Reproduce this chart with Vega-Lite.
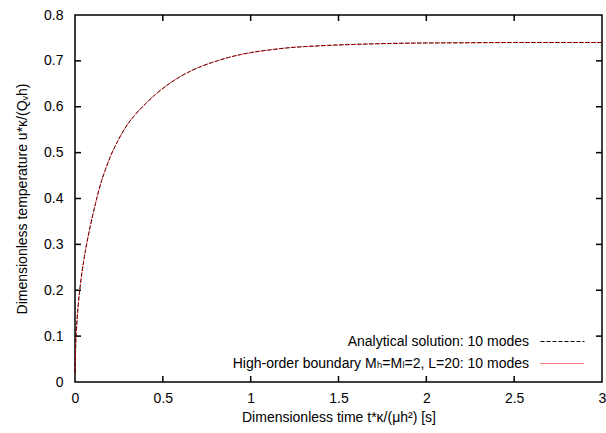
{
  "$schema": "https://vega.github.io/schema/vega-lite/v6.json",
  "width": 527,
  "height": 367,
  "autosize": {"type": "none"},
  "padding": {"left": 75, "top": 15, "right": 4, "bottom": 51},
  "background": "white",
  "config": {
    "font": "Liberation Sans",
    "view": {"stroke": "black", "strokeWidth": 1.5},
    "axis": {
      "domain": false,
      "ticks": false,
      "tickSize": 0,
      "grid": false,
      "labelFont": "Liberation Sans, DejaVu Sans",
      "labelFontSize": 14,
      "labelColor": "black",
      "titleFont": "Liberation Sans, DejaVu Sans",
      "titleFontSize": 14,
      "titleFontWeight": "normal",
      "titleColor": "black"
    },
    "legend": {
      "labelFont": "Liberation Sans, DejaVu Sans",
      "labelFontSize": 14,
      "labelColor": "black"
    }
  },
  "datasets": {
    "curve": [
      {"t": 0, "u": 0.02, "series": "A"}, {"t": 0.005, "u": 0.09, "series": "A"}, {"t": 0.01, "u": 0.125, "series": "A"},
      {"t": 0.02, "u": 0.175, "series": "A"}, {"t": 0.03, "u": 0.21, "series": "A"}, {"t": 0.04, "u": 0.24, "series": "A"},
      {"t": 0.05, "u": 0.265, "series": "A"}, {"t": 0.075, "u": 0.318, "series": "A"}, {"t": 0.1, "u": 0.362, "series": "A"},
      {"t": 0.125, "u": 0.402, "series": "A"}, {"t": 0.15, "u": 0.437, "series": "A"}, {"t": 0.175, "u": 0.465, "series": "A"},
      {"t": 0.2, "u": 0.49, "series": "A"}, {"t": 0.25, "u": 0.53, "series": "A"}, {"t": 0.3, "u": 0.562, "series": "A"},
      {"t": 0.35, "u": 0.586, "series": "A"}, {"t": 0.4, "u": 0.606, "series": "A"}, {"t": 0.45, "u": 0.624, "series": "A"},
      {"t": 0.5, "u": 0.64, "series": "A"}, {"t": 0.6, "u": 0.666, "series": "A"}, {"t": 0.7, "u": 0.685, "series": "A"},
      {"t": 0.8, "u": 0.699, "series": "A"}, {"t": 0.9, "u": 0.71, "series": "A"}, {"t": 1.0, "u": 0.718, "series": "A"},
      {"t": 1.1, "u": 0.7235, "series": "A"}, {"t": 1.2, "u": 0.728, "series": "A"}, {"t": 1.4, "u": 0.733, "series": "A"},
      {"t": 1.6, "u": 0.736, "series": "A"}, {"t": 1.8, "u": 0.738, "series": "A"}, {"t": 2.0, "u": 0.739, "series": "A"},
      {"t": 2.25, "u": 0.7395, "series": "A"}, {"t": 2.5, "u": 0.74, "series": "A"}, {"t": 3.0, "u": 0.74, "series": "A"},
      {"t": 0, "u": 0.02, "series": "B"}, {"t": 0.005, "u": 0.09, "series": "B"}, {"t": 0.01, "u": 0.125, "series": "B"},
      {"t": 0.02, "u": 0.175, "series": "B"}, {"t": 0.03, "u": 0.21, "series": "B"}, {"t": 0.04, "u": 0.24, "series": "B"},
      {"t": 0.05, "u": 0.265, "series": "B"}, {"t": 0.075, "u": 0.318, "series": "B"}, {"t": 0.1, "u": 0.362, "series": "B"},
      {"t": 0.125, "u": 0.402, "series": "B"}, {"t": 0.15, "u": 0.437, "series": "B"}, {"t": 0.175, "u": 0.465, "series": "B"},
      {"t": 0.2, "u": 0.49, "series": "B"}, {"t": 0.25, "u": 0.53, "series": "B"}, {"t": 0.3, "u": 0.562, "series": "B"},
      {"t": 0.35, "u": 0.586, "series": "B"}, {"t": 0.4, "u": 0.606, "series": "B"}, {"t": 0.45, "u": 0.624, "series": "B"},
      {"t": 0.5, "u": 0.64, "series": "B"}, {"t": 0.6, "u": 0.666, "series": "B"}, {"t": 0.7, "u": 0.685, "series": "B"},
      {"t": 0.8, "u": 0.699, "series": "B"}, {"t": 0.9, "u": 0.71, "series": "B"}, {"t": 1.0, "u": 0.718, "series": "B"},
      {"t": 1.1, "u": 0.7235, "series": "B"}, {"t": 1.2, "u": 0.728, "series": "B"}, {"t": 1.4, "u": 0.733, "series": "B"},
      {"t": 1.6, "u": 0.736, "series": "B"}, {"t": 1.8, "u": 0.738, "series": "B"}, {"t": 2.0, "u": 0.739, "series": "B"},
      {"t": 2.25, "u": 0.7395, "series": "B"}, {"t": 2.5, "u": 0.74, "series": "B"}, {"t": 3.0, "u": 0.74, "series": "B"}
    ],
    "xticks": [{"t": 0.5}, {"t": 1}, {"t": 1.5}, {"t": 2}, {"t": 2.5}],
    "yticks": [{"u": 0.1}, {"u": 0.2}, {"u": 0.3}, {"u": 0.4}, {"u": 0.5}, {"u": 0.6}, {"u": 0.7}]
  },
  "layer": [
    {
      "data": {"name": "curve"},
      "mark": {"type": "line", "strokeWidth": 1, "interpolate": "monotone"},
      "encoding": {
        "x": {
          "field": "t", "type": "quantitative",
          "scale": {"domain": [0, 3], "nice": false, "zero": false},
          "axis": {
            "orient": "bottom",
            "values": [0, 0.5, 1, 1.5, 2, 2.5, 3],
            "format": "~g",
            "labelPadding": 9,
            "labelFlush": false,
            "title": "Dimensionless time t*κ/(μh²) [s]",
            "titlePadding": 5
          }
        },
        "y": {
          "field": "u", "type": "quantitative",
          "scale": {"domain": [0, 0.8], "nice": false},
          "axis": {
            "orient": "left",
            "values": [0, 0.1, 0.2, 0.3, 0.4, 0.5, 0.6, 0.7, 0.8],
            "format": "~g",
            "labelPadding": 12,
            "labelFlush": false,
            "title": "Dimensionless temperature u*κ/(Qᵥh)",
            "titlePadding": 14
          }
        },
        "color": {
          "field": "series", "type": "nominal",
          "scale": {"domain": ["A", "B"], "range": ["black", "red"]},
          "legend": {
            "title": null,
            "orient": "none",
            "legendX": 477,
            "legendY": 316,
            "padding": 0,
            "symbolType": "M-2.2,0H2.2",
            "symbolSize": 400,
            "symbolStrokeWidth": 1,
            "labelAlign": "right",
            "labelOffset": -44,
            "labelLimit": 500,
            "rowPadding": 4,
            "labelExpr": "datum.value == 'A' ? 'Analytical solution: 10 modes' : 'High-order boundary Mₕ=Mₗ=2, L=20: 10 modes'"
          }
        },
        "strokeDash": {
          "field": "series", "type": "nominal",
          "scale": {"domain": ["A", "B"], "range": [[4, 2], [1, 1]]},
          "legend": {
            "title": null,
            "orient": "none",
            "legendX": 477,
            "legendY": 316,
            "padding": 0,
            "symbolType": "M-2.2,0H2.2",
            "symbolSize": 400,
            "symbolStrokeWidth": 1,
            "labelAlign": "right",
            "labelOffset": -44,
            "labelLimit": 500,
            "rowPadding": 4,
            "labelExpr": "datum.value == 'A' ? 'Analytical solution: 10 modes' : 'High-order boundary Mₕ=Mₗ=2, L=20: 10 modes'"
          }
        }
      }
    },
    {
      "data": {"name": "xticks"},
      "mark": {"type": "rule", "color": "black", "strokeWidth": 1.5},
      "encoding": {
        "x": {"field": "t", "type": "quantitative"},
        "y": {"datum": 0},
        "y2": {"datum": 0.0131}
      }
    },
    {
      "data": {"name": "xticks"},
      "mark": {"type": "rule", "color": "black", "strokeWidth": 1.5},
      "encoding": {
        "x": {"field": "t", "type": "quantitative"},
        "y": {"datum": 0.8},
        "y2": {"datum": 0.7869}
      }
    },
    {
      "data": {"name": "yticks"},
      "mark": {"type": "rule", "color": "black", "strokeWidth": 1.5},
      "encoding": {
        "y": {"field": "u", "type": "quantitative"},
        "x": {"datum": 0},
        "x2": {"datum": 0.0342}
      }
    },
    {
      "data": {"name": "yticks"},
      "mark": {"type": "rule", "color": "black", "strokeWidth": 1.5},
      "encoding": {
        "y": {"field": "u", "type": "quantitative"},
        "x": {"datum": 3},
        "x2": {"datum": 2.9658}
      }
    }
  ]
}
